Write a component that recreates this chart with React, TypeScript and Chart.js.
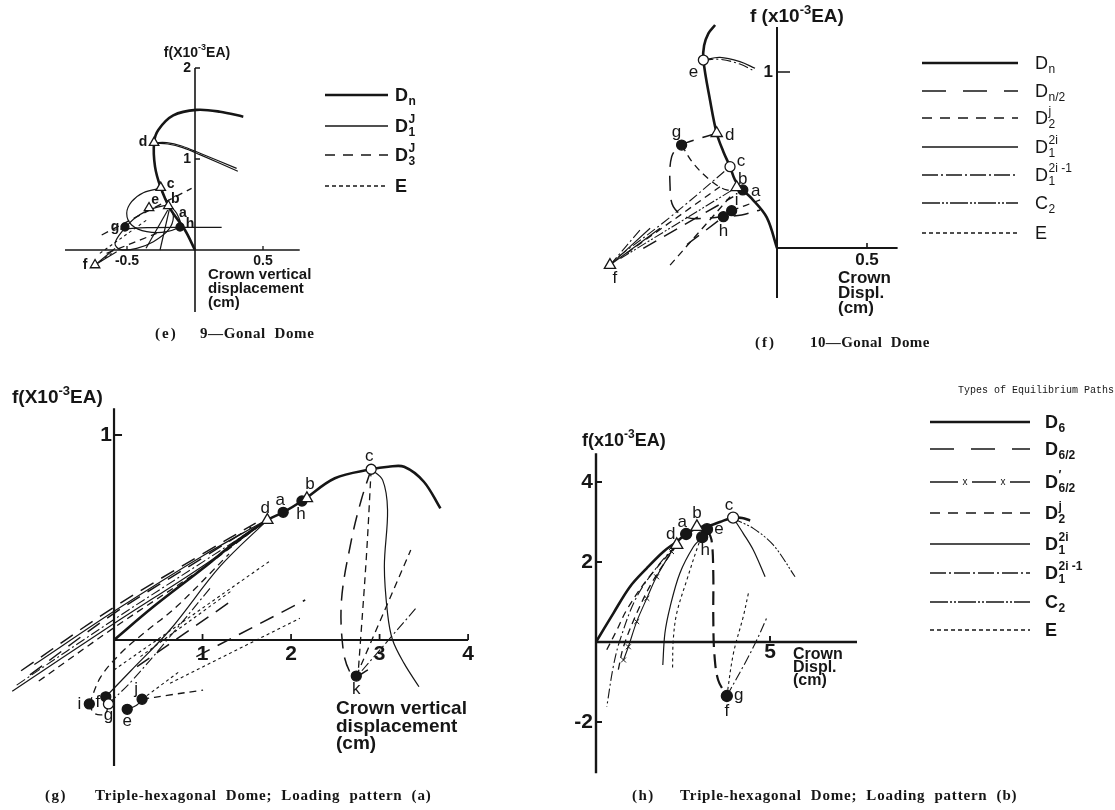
import React, { useEffect, useRef } from 'react';
import { Chart, registerables } from 'chart.js';
Chart.register(...registerables);

type P = [number, number];
type Kind = 'filled' | 'open' | 'tri' | 'none';
interface Mk { id: string; x: number; y: number; kind: Kind }
interface Sym { base: string; sub?: string; sup?: string; style: string }

// ================= (e) 9-Gonal Dome =================
const eDn: P[] = [[0, 0], [-0.074, 0.22], [-0.184, 0.458], [-0.252, 0.685], [-0.294, 0.916], [-0.301, 1.18], [-0.27, 1.32], [-0.16, 1.48], [0.012, 1.54], [0.184, 1.52], [0.355, 1.465]];
const eD1a: P[] = [[-0.301, 1.18], [-0.208, 1.18], [-0.098, 1.143], [0.037, 1.063], [0.306, 0.897]];
const eD1b: P[] = [[-0.29, 1.172], [-0.2, 1.165], [-0.09, 1.125], [0.04, 1.045], [0.315, 0.865]];
const eLoop1: P[] = [[-0.257, 0.678], [-0.38, 0.63], [-0.466, 0.531], [-0.502, 0.403], [-0.466, 0.275], [-0.355, 0.201], [-0.208, 0.201], [-0.11, 0.275], [-0.135, 0.403], [-0.196, 0.513], [-0.257, 0.678]];
const eLoop2: P[] = [[-0.196, 0.495], [-0.306, 0.458], [-0.429, 0.366], [-0.527, 0.22], [-0.588, 0.073], [-0.551, 0.007], [-0.429, 0.018], [-0.306, 0.091], [-0.196, 0.22], [-0.159, 0.366], [-0.196, 0.495]];
const eLeg1: P[] = [[-0.184, 0.476], [-0.257, 0]];
const eLeg2: P[] = [[-0.2, 0.44], [-0.36, 0.02]];
const eFlat: P[] = [[-0.55, 0.23], [-0.35, 0.245], [-0.11, 0.249], [0.196, 0.249]];
const eJ1: P[] = [[-0.686, 0.165], [-0.025, 0.678]];
const eJ2: P[] = [[-0.65, -0.037], [-0.282, 0.183]];
const eE1: P[] = [[-0.7, -0.037], [-0.355, 0.33]];
const eFan1: P[] = [[-0.735, -0.165], [-0.588, 0.018]];
const eFan2: P[] = [[-0.735, -0.165], [-0.613, -0.037]];
const eFan3: P[] = [[-0.735, -0.165], [-0.576, -0.018]];
const eMarkers: Mk[] = [
  { id: 'd', x: -0.301, y: 1.18, kind: 'tri' },
  { id: 'c', x: -0.252, y: 0.685, kind: 'tri' },
  { id: 'e', x: -0.338, y: 0.462, kind: 'tri' },
  { id: 'b', x: -0.196, y: 0.484, kind: 'tri' },
  { id: 'a', x: -0.17, y: 0.44, kind: 'none' },
  { id: 'g', x: -0.515, y: 0.253, kind: 'filled' },
  { id: 'h', x: -0.11, y: 0.253, kind: 'filled' },
  { id: 'f', x: -0.735, y: -0.165, kind: 'tri' },
];
const eXTicks = [-0.5, 0.5];
const eXTickLabels = ['-0.5', '0.5'];
const eYTicks = [1, 2];
const eYTickLabels = ['1', '2'];
const eLegend: Sym[] = [
  { base: 'D', sub: 'n', style: 'thick' },
  { base: 'D', sub: '1', sup: 'J', style: 'thin' },
  { base: 'D', sub: '3', sup: 'J', style: 'dash' },
  { base: 'E', style: 'dot' },
];

// ================= (f) 10-Gonal Dome =================
const fDn: P[] = [[0, 0], [-0.057, 0.174], [-0.141, 0.282], [-0.19, 0.33], [-0.233, 0.386], [-0.261, 0.462], [-0.298, 0.547], [-0.335, 0.652], [-0.372, 0.84], [-0.409, 1.068], [-0.405, 1.15], [-0.381, 1.22], [-0.344, 1.267]];
const fEa: P[] = [[-0.409, 1.068], [-0.317, 1.083], [-0.206, 1.059], [-0.122, 1.021]];
const fEb: P[] = [[-0.409, 1.068], [-0.317, 1.072], [-0.206, 1.045], [-0.122, 1.003]];
const fLoop: P[] = [[-0.335, 0.652], [-0.428, 0.623], [-0.53, 0.585], [-0.585, 0.519], [-0.594, 0.348], [-0.576, 0.235], [-0.502, 0.174], [-0.391, 0.169], [-0.298, 0.178], [-0.196, 0.188], [-0.094, 0.216]];
const fGB: P[] = [[-0.53, 0.585], [-0.465, 0.481], [-0.372, 0.386], [-0.28, 0.33], [-0.224, 0.345]];
const fL1: P[] = [[-0.881, -0.049], [-0.6, 0.17], [-0.261, 0.462]];
const fL2: P[] = [[-0.835, -0.03], [-0.317, 0.348]];
const fL3: P[] = [[-0.87, -0.06], [-0.224, 0.345]];
const fL4: P[] = [[-0.743, -0.002], [-0.243, 0.292]];
const fL5: P[] = [[-0.594, -0.097], [-0.243, 0.311]];
const fL6: P[] = [[-0.5, 0.02], [-0.252, 0.212]];
const fFan1: P[] = [[-0.928, -0.097], [-0.65, 0.112]];
const fFan2: P[] = [[-0.928, -0.097], [-0.705, 0.112]];
const fFan3: P[] = [[-0.928, -0.097], [-0.761, 0.102]];
const fHR: P[] = [[-0.252, 0.212], [-0.094, 0.273]];
const fMarkers: Mk[] = [
  { id: 'e', x: -0.409, y: 1.068, kind: 'open' },
  { id: 'd', x: -0.335, y: 0.652, kind: 'tri' },
  { id: 'g', x: -0.53, y: 0.585, kind: 'filled' },
  { id: 'c', x: -0.261, y: 0.462, kind: 'open' },
  { id: 'b', x: -0.224, y: 0.345, kind: 'tri' },
  { id: 'a', x: -0.19, y: 0.33, kind: 'filled' },
  { id: 'i', x: -0.252, y: 0.212, kind: 'filled' },
  { id: 'h', x: -0.298, y: 0.178, kind: 'filled' },
  { id: 'f', x: -0.928, y: -0.097, kind: 'tri' },
];
const fXTicks = [0.5];
const fXTickLabels = ['0.5'];
const fYTicks = [1];
const fYTickLabels = ['1'];
const fLegend: Sym[] = [
  { base: 'D', sub: 'n', style: 'thick' },
  { base: 'D', sub: 'n/2', style: 'half' },
  { base: 'D', sub: '2', sup: 'j', style: 'dash' },
  { base: 'D', sub: '1', sup: '2i', style: 'thin' },
  { base: 'D', sub: '1', sup: '2i -1', style: 'dashDot' },
  { base: 'C', sub: '2', style: 'c2' },
  { base: 'E', style: 'dot' },
];

// ================= (g) Triple-hexagonal, pattern (a) =================
const gDn: P[] = [[0, 0], [0.447, 0.163], [1.006, 0.35], [1.378, 0.48], [1.732, 0.585], [1.911, 0.623], [2.123, 0.678], [2.495, 0.789], [2.905, 0.833], [3.1, 0.845], [3.277, 0.845], [3.5, 0.772], [3.687, 0.642]];
const gS: P[] = [[2.905, 0.833], [3.035, 0.78], [3.09, 0.634], [3.054, 0.358], [3.09, 0.13], [3.147, 0], [3.277, -0.114], [3.445, -0.228]];
const gK: P[] = [[2.905, 0.833], [2.793, 0.683], [2.682, 0.488], [2.57, 0.195], [2.589, -0.049], [2.663, -0.155], [2.737, -0.176], [2.868, -0.146]];
const gK2: P[] = [[2.737, -0.176], [3.352, 0.439]];
const gK3: P[] = [[2.8, -0.15], [3.427, 0.163]];
const gK4: P[] = [[2.905, 0.833], [2.85, 0.4], [2.76, -0.15]];
const gB1: P[] = [[-1.15, -0.25], [0, 0.08], [1.0, 0.36], [1.72, 0.58]];
const gB2: P[] = [[-1.05, -0.15], [0, 0.16], [1.0, 0.42], [1.6, 0.57]];
const gB3: P[] = [[-0.95, -0.17], [0, 0.13], [1.0, 0.4], [1.55, 0.55]];
const gB4: P[] = [[-0.85, -0.2], [0, 0.06], [1.0, 0.35], [1.65, 0.56]];
const gB5: P[] = [[-1.1, -0.22], [0, 0.1], [1.0, 0.38], [1.68, 0.57]];
const gB6: P[] = [[-0.9, -0.12], [0, 0.14], [1.0, 0.41], [1.7, 0.58]];
const gF: P[] = [[-0.093, -0.277], [0.19, -0.15], [0.633, 0.05], [1.2, 0.36], [1.732, 0.585]];
const gI: P[] = [[-0.279, -0.312], [-0.15, -0.18], [0.075, -0.065], [0.335, 0.033], [0.708, 0.163], [1.3, 0.42]];
const gG: P[] = [[-0.063, -0.312], [0.2, -0.2], [0.6, 0.0], [1.1, 0.26]];
const gE1: P[] = [[0, -0.146], [1.75, 0.382]];
const gE2: P[] = [[0.298, -0.081], [1.34, 0.244]];
const gL1: P[] = [[0.26, -0.13], [1.34, 0.195]];
const gL2: P[] = [[0.93, -0.081], [2.16, 0.195]];
const gE3: P[] = [[0.633, -0.211], [2.1, 0.106]];
const gJ: P[] = [[0.317, -0.289], [0.6, -0.27], [1.006, -0.244]];
const gEJ: P[] = [[0.149, -0.338], [0.25, -0.32], [0.317, -0.289]];
const gIG: P[] = [[-0.279, -0.312], [-0.223, -0.358], [-0.1, -0.36], [-0.063, -0.312]];
const gE4: P[] = [[0.317, -0.289], [0.75, -0.15]];
const gMarkers: Mk[] = [
  { id: 'd', x: 1.732, y: 0.585, kind: 'tri' },
  { id: 'a', x: 1.911, y: 0.623, kind: 'filled' },
  { id: 'h', x: 2.123, y: 0.678, kind: 'filled' },
  { id: 'b', x: 2.179, y: 0.691, kind: 'tri' },
  { id: 'c', x: 2.905, y: 0.833, kind: 'open' },
  { id: 'k', x: 2.737, y: -0.176, kind: 'filled' },
  { id: 'i', x: -0.279, y: -0.312, kind: 'filled' },
  { id: 'f', x: -0.093, y: -0.277, kind: 'filled' },
  { id: 'g', x: -0.063, y: -0.312, kind: 'open' },
  { id: 'e', x: 0.149, y: -0.338, kind: 'filled' },
  { id: 'j', x: 0.317, y: -0.289, kind: 'filled' },
];
const gXTicks = [1, 2, 3, 4];
const gXTickLabels = ['1', '2', '3', '4'];
const gYTicks = [1];
const gYTickLabels = ['1'];

// ================= (h) Triple-hexagonal, pattern (b) =================
const hDn: P[] = [[0, 0], [0.498, 0.717], [0.977, 1.383], [1.456, 1.842], [1.935, 2.258], [2.318, 2.508], [2.59, 2.7], [2.9, 2.85], [3.3, 2.92], [3.56, 3.0], [3.94, 3.11], [4.2, 3.1], [4.43, 3.04]];
const hD1a: P[] = [[3.94, 3.11], [4.23, 2.717], [4.52, 2.3], [4.86, 1.63]];
const hC2a: P[] = [[3.94, 3.11], [4.04, 3.05], [4.52, 2.84], [5.1, 2.42], [5.72, 1.63]];
const hD1b: P[] = [[3.05, 2.62], [2.8, 2.38], [2.41, 1.72], [2.13, 0.88], [1.98, 0.22], [1.92, -0.575]];
const hE1: P[] = [[3.05, 2.62], [2.99, 2.55], [2.61, 1.55], [2.32, 0.72], [2.22, 0.05], [2.2, -0.66]];
const hHalf: P[] = [[3.19, 2.82], [3.32, 2.55], [3.37, 1.72], [3.37, 0.63], [3.4, -0.28], [3.51, -0.95], [3.76, -1.35]];
const hE2: P[] = [[3.76, -1.35], [3.95, -0.28], [4.23, 0.63], [4.38, 1.22]];
const hC2b: P[] = [[3.76, -1.35], [4.33, -0.45], [4.62, 0.05], [4.9, 0.59]];
const hJ1: P[] = [[2.32, 2.43], [1.46, 1.55], [0.88, 0.8], [0.6, 0.3], [0.26, -0.28]];
const hDD: P[] = [[2.32, 2.43], [1.84, 1.97], [1.17, 1.13], [0.69, 0.05], [0.5, -0.6], [0.31, -1.62]];
const hX: P[] = [[2.32, 2.43], [2.17, 2.26], [1.74, 1.63], [1.46, 1.09], [1.17, 0.51], [0.93, -0.12], [0.79, -0.45]];
const hJ2: P[] = [[2.32, 2.43], [1.65, 1.55], [1.17, 0.72], [0.79, -0.12], [0.64, -0.7]];
const hMarkers: Mk[] = [
  { id: 'd', x: 2.32, y: 2.43, kind: 'tri' },
  { id: 'a', x: 2.59, y: 2.7, kind: 'filled' },
  { id: 'b', x: 2.9, y: 2.88, kind: 'tri' },
  { id: 'e', x: 3.19, y: 2.82, kind: 'filled' },
  { id: 'h', x: 3.05, y: 2.62, kind: 'filled' },
  { id: 'c', x: 3.94, y: 3.11, kind: 'open' },
  { id: 'g', x: 3.76, y: -1.35, kind: 'filled' },
  { id: 'f', x: 3.76, y: -1.35, kind: 'none' },
];
const hXTicks = [5];
const hXTickLabels = ['5'];
const hYTicks = [4, 2, -2];
const hYTickLabels = ['4', '2', '-2'];
const hLegend: Sym[] = [
  { base: 'D', sub: '6', style: 'thick' },
  { base: 'D', sub: '6/2', style: 'half' },
  { base: 'D', sub: '6/2', sup: '\u2032', style: 'xline' },
  { base: 'D', sub: '2', sup: 'j', style: 'dash' },
  { base: 'D', sub: '1', sup: '2i', style: 'thin' },
  { base: 'D', sub: '1', sup: '2i -1', style: 'dashDot' },
  { base: 'C', sub: '2', style: 'c2' },
  { base: 'E', style: 'dot' },
];

// ================= styles =================
const INK = '#161616';
const SANS = '"Liberation Sans", Arial, Helvetica, sans-serif';
const SERIF = '"Liberation Serif", "Times New Roman", serif';
const MONO = '"Liberation Mono", "DejaVu Sans Mono", monospace';

const STYLES: Record<string, { w: number; dash: number[]; legendDash?: number[] }> = {
  thick: { w: 2.6, dash: [] },
  thin: { w: 1.2, dash: [] },
  half: { w: 1.5, dash: [15, 9], legendDash: [24, 17] },
  heavyHalf: { w: 2.2, dash: [14, 7] },
  dash: { w: 1.3, dash: [7, 5], legendDash: [10, 8] },
  dashDot: { w: 1.1, dash: [10, 3, 2, 3], legendDash: [16, 3, 2, 3] },
  c2: { w: 1.1, dash: [10, 2, 2, 2, 2, 2], legendDash: [18, 2, 2, 2, 2, 2] },
  dot: { w: 1.1, dash: [3, 3], legendDash: [4, 3] },
  xline: { w: 1.1, dash: [] },
};

interface Series { data: P[]; style: string; tension?: number }
interface Spec {
  rect: { x: number; y: number; w: number; h: number };
  origin: { x: number; y: number };
  scale: { x: number; y: number };
  xr: [number, number];
  yr: [number, number];
  series: Series[];
  markers: Mk[];
  markerR: number;
  labelOff: Record<string, [number, number]>;
  labelFont: string;
  axis: { x: [number, number]; y: [number, number]; w: number };
  xTicks: number[]; xTickLabels: string[]; yTicks: number[]; yTickLabels: string[];
  tickSize: number; xTickLen: number; yTickLen: number; xLabelDy: number; yLabelDx: number;
  yTitle: { x: number; y: number; size: number; align: 'left' | 'center'; lower: boolean; space: boolean };
  xTitle: { lines: string[]; x: number; y: number; dy: number; size: number };
  legend?: { entries: Sym[]; x1: number; x2: number; lx: number; ys: number[]; size: number; weight: string };
};

const eSpec: Spec = {
  rect: { x: 0, y: 0, w: 560, h: 345 },
  origin: { x: 195, y: 250 }, scale: { x: 136, y: 91 },
  xr: [-1.0, 0.85], yr: [-0.75, 2.1],
  series: [
    { data: eDn, style: 'thick' }, { data: eD1a, style: 'thin' }, { data: eD1b, style: 'thin' },
    { data: eLoop1, style: 'thin' }, { data: eLoop2, style: 'thin' },
    { data: eLeg1, style: 'thin', tension: 0 }, { data: eLeg2, style: 'thin', tension: 0 },
    { data: eFlat, style: 'thin' }, { data: eJ1, style: 'dash' }, { data: eJ2, style: 'dash' },
    { data: eE1, style: 'dot' }, { data: eFan1, style: 'thin' }, { data: eFan2, style: 'dot' }, { data: eFan3, style: 'thin' },
  ],
  markers: eMarkers, markerR: 4,
  labelOff: { d: [-11, 0], c: [10, -4], e: [6, -8], b: [7, -7], a: [11, 3], g: [-10, 0], h: [10, -3], f: [-10, 0] },
  labelFont: `bold 14px ${SANS}`,
  axis: { x: [-0.956, 0.77], y: [-0.68, 2.0], w: 1.6 },
  xTicks: eXTicks, xTickLabels: eXTickLabels, yTicks: eYTicks, yTickLabels: eYTickLabels,
  tickSize: 14, xTickLen: 4, yTickLen: 5, xLabelDy: 11, yLabelDx: -4,
  yTitle: { x: 197, y: 53, size: 14, align: 'center', lower: false, space: false },
  xTitle: { lines: ['Crown vertical', 'displacement', '(cm)'], x: 208, y: 275, dy: 14, size: 15 },
  legend: { entries: eLegend, x1: 325, x2: 388, lx: 395, ys: [95, 126, 155, 186], size: 18, weight: 'bold' },
};

const fSpec: Spec = {
  rect: { x: 560, y: 0, w: 555, h: 355 },
  origin: { x: 777, y: 248 }, scale: { x: 180, y: 176 },
  xr: [-1.0, 0.7], yr: [-0.3, 1.3],
  series: [
    { data: fDn, style: 'thick' }, { data: fEa, style: 'thin' }, { data: fEb, style: 'dashDot' },
    { data: fLoop, style: 'half' }, { data: fGB, style: 'dash' },
    { data: fL1, style: 'dashDot' }, { data: fL2, style: 'dash', tension: 0 }, { data: fL3, style: 'c2', tension: 0 },
    { data: fL4, style: 'half', tension: 0 }, { data: fL5, style: 'dash', tension: 0 }, { data: fL6, style: 'half', tension: 0 },
    { data: fFan1, style: 'thin' }, { data: fFan2, style: 'thin' }, { data: fFan3, style: 'dashDot' }, { data: fHR, style: 'dash' },
  ],
  markers: fMarkers, markerR: 5,
  labelOff: { e: [-10, 12], d: [13, 2], g: [-5, -13], c: [11, -5], b: [6, -8], a: [13, 1], i: [5, -10], h: [0, 15], f: [5, 13] },
  labelFont: `17px ${SANS}`,
  axis: { x: [0, 0.67], y: [-0.284, 1.256], w: 2 },
  xTicks: fXTicks, xTickLabels: fXTickLabels, yTicks: fYTicks, yTickLabels: fYTickLabels,
  tickSize: 17, xTickLen: 5, yTickLen: 13, xLabelDy: 12, yLabelDx: -4,
  yTitle: { x: 750, y: 17, size: 19, align: 'left', lower: true, space: true },
  xTitle: { lines: ['Crown', 'Displ.', '(cm)'], x: 838, y: 278, dy: 15, size: 17 },
  legend: { entries: fLegend, x1: 922, x2: 1018, lx: 1035, ys: [63, 91, 118, 147, 175, 203, 233], size: 18, weight: 'normal' },
};

const gSpec: Spec = {
  rect: { x: 0, y: 370, w: 560, h: 440 },
  origin: { x: 110, y: 640 }, scale: { x: 89.5, y: 205 },
  xr: [-1.2, 4.1], yr: [-0.65, 1.2],
  series: [
    { data: gDn, style: 'thick' }, { data: gS, style: 'thin' }, { data: gK, style: 'half' },
    { data: gK2, style: 'dash', tension: 0 }, { data: gK3, style: 'dashDot', tension: 0 }, { data: gK4, style: 'dash' },
    { data: gB1, style: 'thin' }, { data: gB2, style: 'half' }, { data: gB3, style: 'half' },
    { data: gB4, style: 'dash' }, { data: gB5, style: 'dashDot' }, { data: gB6, style: 'thin' },
    { data: gF, style: 'thin' }, { data: gI, style: 'dash' }, { data: gG, style: 'dashDot' },
    { data: gE1, style: 'dot', tension: 0 }, { data: gE2, style: 'dot', tension: 0 },
    { data: gL1, style: 'half', tension: 0 }, { data: gL2, style: 'half', tension: 0 }, { data: gE3, style: 'dot', tension: 0 },
    { data: gJ, style: 'dash' }, { data: gEJ, style: 'thin' }, { data: gIG, style: 'dash' }, { data: gE4, style: 'dot', tension: 0 },
  ],
  markers: gMarkers, markerR: 5,
  labelOff: { d: [-2, -12], a: [-3, -12], b: [3, -14], h: [-1, 13], c: [-2, -13], k: [0, 13], i: [-10, 0], f: [-8, 6], g: [0, 11], e: [0, 12], j: [-6, -10] },
  labelFont: `17px ${SANS}`,
  axis: { x: [0, 4.0], y: [-0.615, 1.13], w: 2.2 },
  xTicks: gXTicks, xTickLabels: gXTickLabels, yTicks: gYTicks, yTickLabels: gYTickLabels,
  tickSize: 21, xTickLen: 6, yTickLen: 8, xLabelDy: 14, yLabelDx: -2,
  yTitle: { x: 12, y: 398, size: 19, align: 'left', lower: false, space: false },
  xTitle: { lines: ['Crown vertical', 'displacement', '(cm)'], x: 336, y: 709, dy: 17.5, size: 19 },
};

const hSpec: Spec = {
  rect: { x: 560, y: 370, w: 555, h: 440 },
  origin: { x: 596, y: 642 }, scale: { x: 34.8, y: 40 },
  xr: [-0.5, 8.0], yr: [-3.4, 4.8],
  series: [
    { data: hDn, style: 'thick' }, { data: hD1a, style: 'thin' }, { data: hC2a, style: 'c2' },
    { data: hD1b, style: 'thin' }, { data: hE1, style: 'dot' }, { data: hHalf, style: 'heavyHalf' },
    { data: hE2, style: 'dot' }, { data: hC2b, style: 'dashDot' }, { data: hJ1, style: 'dash' },
    { data: hDD, style: 'dashDot' }, { data: hX, style: 'xline' }, { data: hJ2, style: 'dash' },
  ],
  markers: hMarkers, markerR: 5.5,
  labelOff: { d: [-6, -10], a: [-4, -12], b: [0, -13], e: [12, 0], h: [3, 13], c: [-4, -12], g: [12, -1], f: [0, 15] },
  labelFont: `17px ${SANS}`,
  axis: { x: [0, 7.5], y: [-3.28, 4.72], w: 2.4 },
  xTicks: hXTicks, xTickLabels: hXTickLabels, yTicks: hYTicks, yTickLabels: hYTickLabels,
  tickSize: 21, xTickLen: 6, yTickLen: 6, xLabelDy: 10, yLabelDx: -3,
  yTitle: { x: 582, y: 441, size: 18, align: 'left', lower: true, space: false },
  xTitle: { lines: ['Crown', 'Displ.', '(cm)'], x: 793, y: 655, dy: 13, size: 16 },
  legend: { entries: hLegend, x1: 930, x2: 1030, lx: 1045, ys: [422, 449, 482, 513, 544, 573, 602, 630], size: 18, weight: 'bold' },
};

// ================= drawing helpers =================
function drawTitle(ctx: CanvasRenderingContext2D, s: Spec) {
  const t = s.yTitle;
  const parts = [
    { t: t.space ? 'f (' : 'f(', sup: false },
    { t: (t.lower ? 'x' : 'X') + '10', sup: false },
    { t: '-3', sup: true },
    { t: 'EA)', sup: false },
  ];
  const big = `bold ${t.size}px ${SANS}`;
  const small = `bold ${Math.round(t.size * 0.66)}px ${SANS}`;
  let total = 0;
  parts.forEach(p => { ctx.font = p.sup ? small : big; total += ctx.measureText(p.t).width; });
  let cx = (t.align === 'center' ? t.x - total / 2 : t.x) - s.rect.x;
  const cy = t.y - s.rect.y;
  ctx.textAlign = 'left';
  ctx.textBaseline = 'middle';
  parts.forEach(p => {
    ctx.font = p.sup ? small : big;
    ctx.fillText(p.t, cx, p.sup ? cy - t.size * 0.36 : cy);
    cx += ctx.measureText(p.t).width;
  });
}

function drawSym(ctx: CanvasRenderingContext2D, e: Sym, x: number, y: number, size: number, weight: string) {
  ctx.textAlign = 'left';
  ctx.textBaseline = 'middle';
  ctx.font = `${weight} ${size}px ${SANS}`;
  ctx.fillText(e.base, x, y);
  const w = ctx.measureText(e.base).width;
  ctx.font = `${weight} ${Math.round(size * 0.64)}px ${SANS}`;
  if (e.sub) ctx.fillText(e.sub, x + w + 0.5, y + size * 0.32);
  if (e.sup) ctx.fillText(e.sup, x + w + 0.5, y - size * 0.42);
}

function drawLegendLine(ctx: CanvasRenderingContext2D, e: Sym, x1: number, x2: number, y: number) {
  const st = STYLES[e.style];
  ctx.strokeStyle = INK;
  ctx.lineWidth = e.style === 'thick' ? 2.6 : 1.4;
  if (e.style === 'xline') {
    const segs: [number, number][] = [[x1, x1 + 28], [x1 + 42, x1 + 66], [x1 + 80, x2]];
    ctx.setLineDash([]);
    ctx.beginPath();
    segs.forEach(([a, b]) => { ctx.moveTo(a, y); ctx.lineTo(b, y); });
    ctx.stroke();
    ctx.font = `10px ${SANS}`;
    ctx.textAlign = 'center';
    ctx.textBaseline = 'middle';
    ctx.fillText('x', x1 + 35, y);
    ctx.fillText('x', x1 + 73, y);
    return;
  }
  ctx.setLineDash(st.legendDash || st.dash);
  ctx.beginPath();
  ctx.moveTo(x1, y);
  ctx.lineTo(x2, y);
  ctx.stroke();
  ctx.setLineDash([]);
}

function makePlugin(s: Spec) {
  return {
    id: 'domeDecor',
    beforeDatasetsDraw(chart: any) {
      const ctx: CanvasRenderingContext2D = chart.ctx;
      const xs = chart.scales.x, ys = chart.scales.y;
      const x0 = xs.getPixelForValue(0), y0 = ys.getPixelForValue(0);
      ctx.save();
      ctx.strokeStyle = INK;
      ctx.setLineDash([]);
      ctx.lineWidth = s.axis.w;
      ctx.beginPath();
      ctx.moveTo(xs.getPixelForValue(s.axis.x[0]), y0);
      ctx.lineTo(xs.getPixelForValue(s.axis.x[1]), y0);
      ctx.moveTo(x0, ys.getPixelForValue(s.axis.y[0]));
      ctx.lineTo(x0, ys.getPixelForValue(s.axis.y[1]));
      ctx.stroke();
      ctx.lineWidth = Math.max(1.3, s.axis.w * 0.8);
      ctx.beginPath();
      s.xTicks.forEach(v => { const px = xs.getPixelForValue(v); ctx.moveTo(px, y0); ctx.lineTo(px, y0 - s.xTickLen); });
      s.yTicks.forEach(v => { const py = ys.getPixelForValue(v); ctx.moveTo(x0, py); ctx.lineTo(x0 + s.yTickLen, py); });
      ctx.stroke();
      ctx.restore();
    },
    afterDraw(chart: any) {
      const ctx: CanvasRenderingContext2D = chart.ctx;
      const xs = chart.scales.x, ys = chart.scales.y;
      const x0 = xs.getPixelForValue(0), y0 = ys.getPixelForValue(0);
      ctx.save();
      ctx.fillStyle = INK;
      ctx.font = `bold ${s.tickSize}px ${SANS}`;
      ctx.textBaseline = 'middle';
      ctx.textAlign = 'center';
      s.xTicks.forEach((v, i) => ctx.fillText(s.xTickLabels[i], xs.getPixelForValue(v), y0 + s.xLabelDy));
      ctx.textAlign = 'right';
      s.yTicks.forEach((v, i) => ctx.fillText(s.yTickLabels[i], x0 + s.yLabelDx, ys.getPixelForValue(v)));
      drawTitle(ctx, s);
      ctx.font = `bold ${s.xTitle.size}px ${SANS}`;
      ctx.textAlign = 'left';
      ctx.textBaseline = 'middle';
      s.xTitle.lines.forEach((ln, i) => ctx.fillText(ln, s.xTitle.x - s.rect.x, s.xTitle.y + i * s.xTitle.dy - s.rect.y));
      ctx.font = s.labelFont;
      ctx.textAlign = 'center';
      s.markers.forEach(m => {
        const off = s.labelOff[m.id] || [0, -10];
        ctx.fillText(m.id, xs.getPixelForValue(m.x) + off[0], ys.getPixelForValue(m.y) + off[1]);
      });
      if (s.legend) {
        const L = s.legend;
        L.entries.forEach((e, i) => {
          const y = L.ys[i] - s.rect.y;
          drawLegendLine(ctx, e, L.x1 - s.rect.x, L.x2 - s.rect.x, y);
          ctx.fillStyle = INK;
          drawSym(ctx, e, L.lx - s.rect.x, y + 1, L.size, L.weight);
        });
      }
      ctx.restore();
    },
  };
}

function buildConfig(s: Spec): any {
  const pad = {
    left: s.origin.x + s.xr[0] * s.scale.x - s.rect.x,
    right: s.rect.w - (s.origin.x + s.xr[1] * s.scale.x - s.rect.x),
    top: s.origin.y - s.yr[1] * s.scale.y - s.rect.y,
    bottom: s.rect.h - (s.origin.y - s.yr[0] * s.scale.y - s.rect.y),
  };
  const markerSets: any[] = [];
  const kinds: Kind[] = ['tri', 'open', 'filled'];
  kinds.forEach(k => {
    const pts = s.markers.filter(m => m.kind === k).map(m => ({ x: m.x, y: m.y }));
    if (!pts.length) return;
    markerSets.push({
      data: pts,
      showLine: false,
      order: 0,
      pointStyle: k === 'tri' ? 'triangle' : 'circle',
      pointRadius: k === 'tri' ? s.markerR + 1.5 : s.markerR,
      pointBackgroundColor: k === 'filled' ? INK : '#ffffff',
      pointBorderColor: INK,
      pointBorderWidth: 1.3,
      clip: false,
    });
  });
  const lineSets = s.series.map(ser => {
    const st = STYLES[ser.style];
    const isX = ser.style === 'xline';
    return {
      data: ser.data.map(([x, y]) => ({ x, y })),
      showLine: true,
      order: 1,
      borderColor: INK,
      borderWidth: st.w,
      borderDash: st.dash,
      tension: ser.tension ?? 0.35,
      fill: false,
      clip: false,
      pointStyle: 'crossRot',
      pointRadius: isX ? (c: any) => (c.dataIndex === 0 ? 0 : 3.5) : 0,
      pointBorderColor: INK,
      pointBorderWidth: 1,
    };
  });
  return {
    type: 'scatter',
    data: { datasets: [...markerSets, ...lineSets] },
    options: {
      responsive: false,
      animation: false,
      devicePixelRatio: 1,
      events: [],
      layout: { padding: pad },
      plugins: { legend: { display: false }, tooltip: { enabled: false }, title: { display: false } },
      scales: {
        x: { type: 'linear', min: s.xr[0], max: s.xr[1], display: false },
        y: { type: 'linear', min: s.yr[0], max: s.yr[1], display: false },
      },
    },
    plugins: [makePlugin(s)],
  };
}

function Panel({ spec }: { spec: Spec }) {
  const ref = useRef<HTMLCanvasElement>(null);
  useEffect(() => {
    const chart = new Chart(ref.current as HTMLCanvasElement, buildConfig(spec));
    return () => chart.destroy();
  }, [spec]);
  const r = spec.rect;
  return (
    <canvas
      ref={ref}
      width={r.w}
      height={r.h}
      style={{ position: 'absolute', left: r.x, top: r.y, width: r.w, height: r.h }}
    />
  );
}

const capStyle: React.CSSProperties = {
  position: 'absolute',
  fontFamily: SERIF,
  fontWeight: 'bold',
  fontSize: 15,
  color: INK,
  whiteSpace: 'pre',
  lineHeight: '18px',
};

export default function App() {
  return (
    <div style={{ position: 'absolute', left: 0, top: 0, width: 1115, height: 810, background: '#fff', overflow: 'hidden' }}>
      <Panel spec={eSpec} />
      <Panel spec={fSpec} />
      <Panel spec={gSpec} />
      <Panel spec={hSpec} />
      <div style={{ ...capStyle, left: 155, top: 324, letterSpacing: 2 }}>(e)</div>
      <div style={{ ...capStyle, left: 200, top: 324, letterSpacing: 0.6 }}>9—Gonal  Dome</div>
      <div style={{ ...capStyle, left: 755, top: 333, letterSpacing: 2 }}>(f)</div>
      <div style={{ ...capStyle, left: 810, top: 333, letterSpacing: 0.4 }}>10—Gonal  Dome</div>
      <div style={{ ...capStyle, left: 45, top: 786, letterSpacing: 1.5 }}>(g)</div>
      <div style={{ ...capStyle, left: 95, top: 786, letterSpacing: 0.8 }}>Triple-hexagonal  Dome;  Loading  pattern  (a)</div>
      <div style={{ ...capStyle, left: 632, top: 786, letterSpacing: 1.5 }}>(h)</div>
      <div style={{ ...capStyle, left: 680, top: 786, letterSpacing: 0.8 }}>Triple-hexagonal  Dome;  Loading  pattern  (b)</div>
      <div style={{ position: 'absolute', left: 958, top: 384, fontFamily: MONO, fontSize: 10, color: INK, whiteSpace: 'pre', lineHeight: '14px' }}>
        Types of Equilibrium Paths
      </div>
    </div>
  );
}
